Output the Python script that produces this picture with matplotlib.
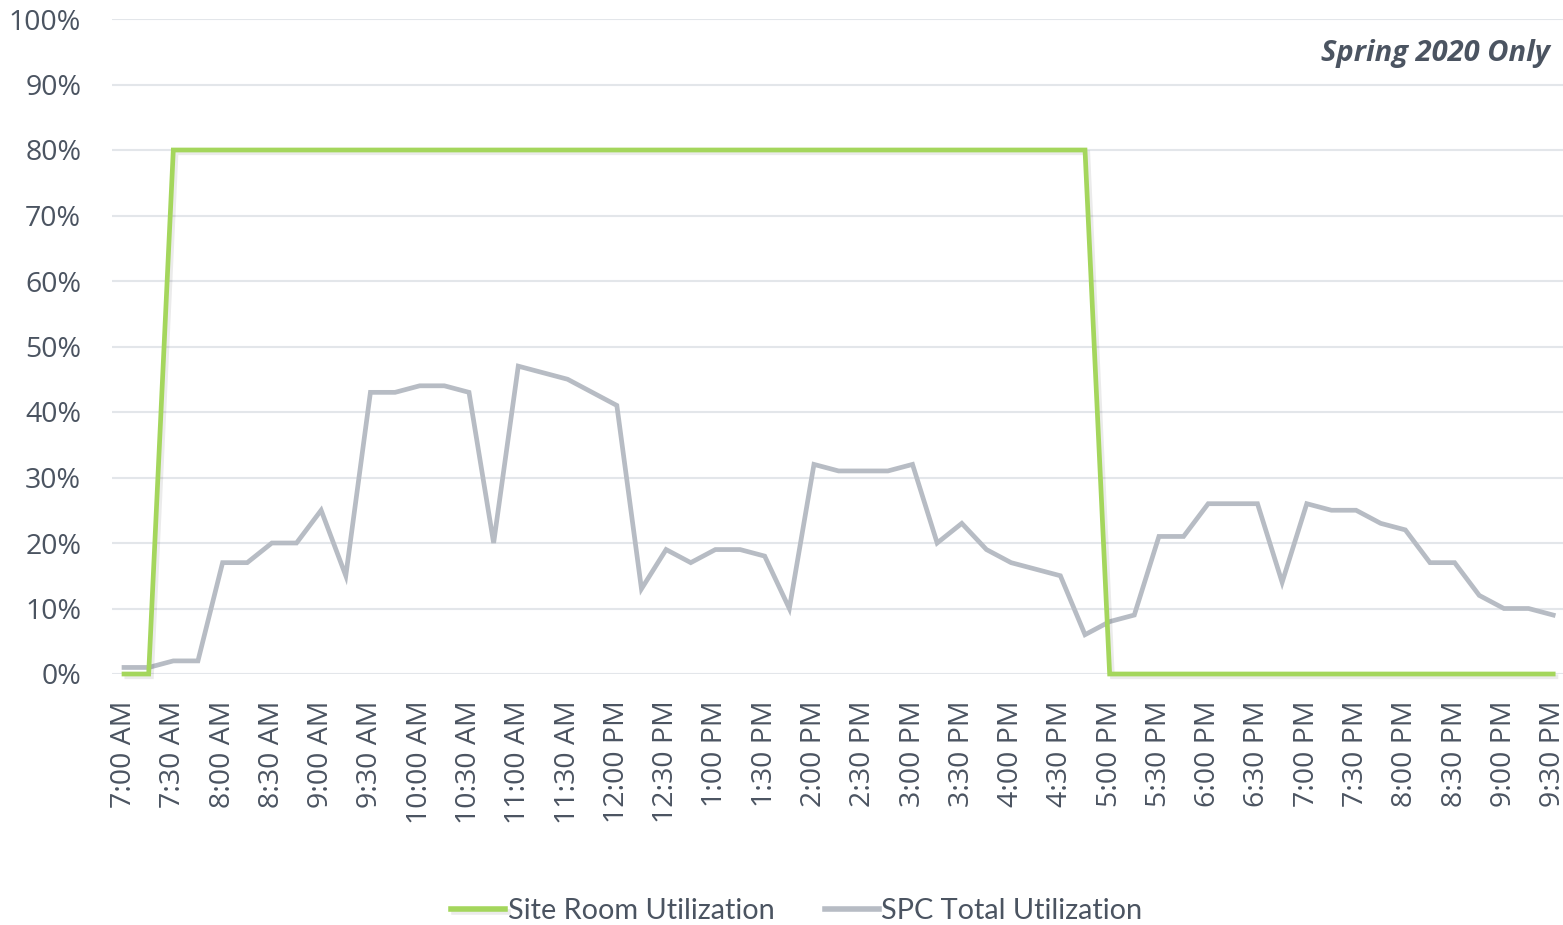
import matplotlib
matplotlib.use("Agg")
import matplotlib.pyplot as plt
import matplotlib.patheffects as pe

# ---- data ----
times = []
for h in range(7, 22):
    for m in (0, 15, 30, 45):
        if h == 21 and m > 30:
            continue
        hh = h if h <= 12 else h - 12
        ampm = "AM" if h < 12 else "PM"
        times.append(f"{hh}:{m:02d} {ampm}")

site_room = [0, 0] + [80] * 38 + [0] * 19
spc_total = [1, 1, 2, 2, 17, 17, 20, 20, 25, 15,
             43, 43, 44, 44, 43, 20, 47, 46, 45, 43,
             41, 13, 19, 17, 19, 19, 18, 10, 32, 31,
             31, 31, 32, 20, 23, 19, 17, 16, 15, 6,
             8, 9, 21, 21, 26, 26, 26, 14, 26, 25,
             25, 23, 22, 17, 17, 12, 10, 10, 9]
series_names = ["Site Room Utilization", "SPC Total Utilization"]
y_ticks = list(range(0, 101, 10))

# ---- style ----
green = "#A4D65C"
gray = "#B7BCC4"
text_c = "#4B5461"
grid_c = "#E3E6EA"
font = "Open Sans"

fig = plt.figure(figsize=(15.63, 9.25), dpi=100)
ax = fig.add_axes([111.7 / 1563, (925 - 674) / 925, 1453.8 / 1563, (674 - 19) / 925])

x = list(range(len(times)))
shadow = [pe.SimpleLineShadow(offset=(2, -2), shadow_color="black", alpha=0.08), pe.Normal()]
ax.plot(x, spc_total, color=gray, lw=3.4, solid_joinstyle="miter", zorder=3,
        clip_on=False, label=series_names[1])
ax.plot(x, site_room, color=green, lw=3.4, solid_joinstyle="miter", zorder=4,
        clip_on=False, label=series_names[0], path_effects=shadow)

ax.set_xlim(-0.5, len(times) - 0.5)
ax.set_ylim(0, 100)
ax.set_yticks(y_ticks)
ax.set_yticklabels([f"{v}%" for v in y_ticks], fontsize=20.5, color=text_c, family=font)
ax.set_xticks(x[::2])
ax.set_xticklabels(times[::2], rotation=90, fontsize=20.5, color=text_c, family=font,
                   va="top", ha="center")
ax.tick_params(axis="both", length=0)
ax.tick_params(axis="y", pad=22)
ax.tick_params(axis="x", pad=19)
for s in ax.spines.values():
    s.set_visible(False)
ax.grid(axis="y", color=grid_c, lw=1.5, zorder=0)
ax.set_axisbelow(True)

ax.text(1550 / 1563, 1 - 53 / 925, "Spring 2020 Only", transform=fig.transFigure,
        ha="right", va="center", fontsize=21, fontweight="bold", fontstyle="italic",
        color=text_c, family=font)

handles, labels = ax.get_legend_handles_labels()
leg = fig.legend(handles[::-1], labels[::-1], loc="center",
                 bbox_to_anchor=(797 / 1563, 1 - 911 / 925), ncol=2, frameon=False,
                 prop={"family": "Lato", "size": 20.8}, handlelength=1.85,
                 handletextpad=0.1, columnspacing=1.75)
for t in leg.get_texts():
    t.set_color(text_c)
for l in leg.get_lines():
    l.set_linewidth(4)

fig.savefig("out.png", dpi=100)
